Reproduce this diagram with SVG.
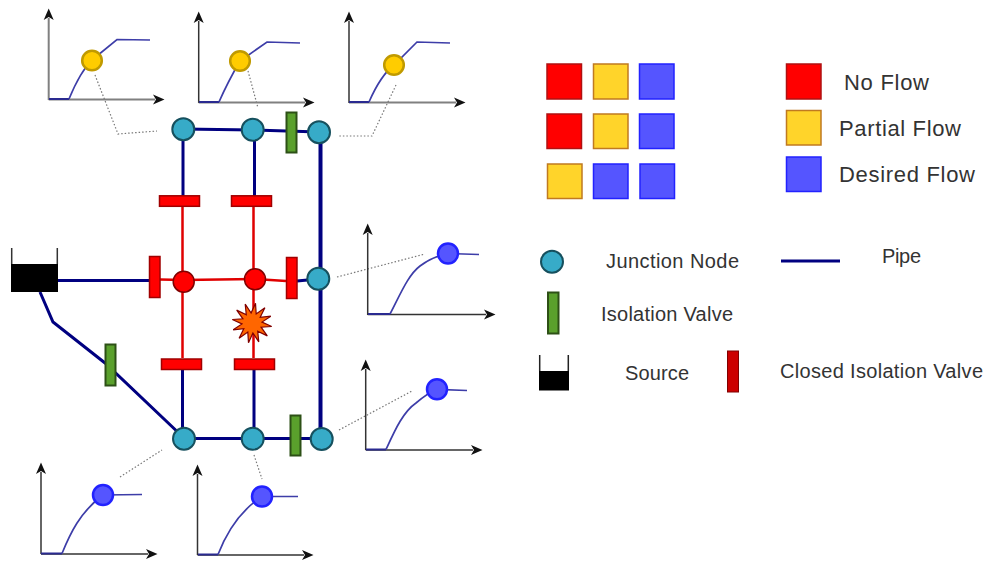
<svg xmlns="http://www.w3.org/2000/svg" width="987" height="561" viewBox="0 0 987 561">
<style>
text{font-family:"Liberation Sans",Arial,sans-serif;font-size:20px;fill:#333}
.big{font-size:22px}
.pipe{fill:none;stroke:#000080;stroke-width:3}
.thick{stroke-width:4}
.closed{fill:none;stroke:#e00000;stroke-width:2.5}
.junction{fill:#37abc8;stroke:#16505e;stroke-width:2}
.rednode{fill:#f00;stroke:#800000;stroke-width:1.5}
.green{fill:#5aa02c;stroke:#2d5016;stroke-width:2}
.redv{fill:#f00;stroke:#a00000;stroke-width:1.5}
.axis{fill:none;stroke:#333;stroke-width:1.5;marker-end:url(#arrow)}
.axisg{fill:none;stroke:#808080;stroke-width:2;marker-end:url(#arrow)}
.curve{fill:none;stroke:#3d3da8;stroke-width:1.7}
.base{fill:none;stroke:#2a2a90;stroke-width:2}
.dots{fill:none;stroke:#777;stroke-width:1.2;stroke-dasharray:1.5 2}
.mpart{fill:#fc0;stroke:#c09a00;stroke-width:2.5}
.mfull{fill:#55f;stroke:#22f;stroke-width:2.5}
.sr{fill:#f00;stroke:#b01010;stroke-width:1.5}
.sy{fill:#ffd42a;stroke:#c07a20;stroke-width:1.5}
.sb{fill:#55f;stroke:#22f;stroke-width:1.5}
</style>
<defs>
<marker id="arrow" markerUnits="userSpaceOnUse" markerWidth="14" markerHeight="12" refX="2" refY="6" orient="auto">
<path d="M0,1 L11.500,6 L0,11 L3,6 Z" fill="#111"/>
</marker>
<g id="source-shape">
<rect x="0" y="16" width="47" height="28" fill="#000"/>
<path d="M0.7,0 V16 M46.3,0 V16" stroke="#333" stroke-width="1.5" fill="none"/>
</g>
</defs>

<g id="connectors">
<path class="pipe" d="M183,129 L253,130 L319,132"/>
<path class="pipe" d="M183,129 V196 M254.500,130 V196"/>
<path class="pipe thick" d="M320.500,132 V439"/>
<path class="pipe" d="M58,280.500 H149 M297,281 L318,279"/>
<path class="pipe" d="M40,292 L53,322 L105,363 L184,438"/>
<path class="pipe" d="M182.500,370 V438 M254,370 V438"/>
<path class="pipe" d="M184,438.500 H321"/>
<path class="closed" d="M182.500,206 V358 M253.500,206 V358"/>
<path class="closed" d="M160,279.500 L184,280 L255,279 L286,281"/>
<path class="dots" d="M95,75 L118,134 L157,131"/>
<path class="dots" d="M248,71 L258,108"/>
<path class="dots" d="M396,85 L372,136 L339,136"/>
<path class="dots" d="M337,277 L425,254"/>
<path class="dots" d="M339,430 L412,391"/>
<path class="dots" d="M120,477 L162,450"/>
<path class="dots" d="M254,455 L262,479"/>
</g>

<g id="source"><use href="#source-shape" x="11" y="248"/></g>
<g id="j1"><circle class="junction" cx="183.300" cy="129.300" r="11"/></g>
<g id="j2"><circle class="junction" cx="252.700" cy="129.700" r="11"/></g>
<g id="j3"><circle class="junction" cx="319" cy="132.300" r="11"/></g>
<g id="j4"><circle class="junction" cx="318.300" cy="278.700" r="11"/></g>
<g id="j5"><circle class="junction" cx="184" cy="438.700" r="11"/></g>
<g id="j6"><circle class="junction" cx="252.700" cy="438.700" r="11"/></g>
<g id="j7"><circle class="junction" cx="321.700" cy="439" r="11"/></g>
<g id="n1"><circle class="rednode" cx="183.700" cy="281.700" r="10.500"/></g>
<g id="n2"><circle class="rednode" cx="255" cy="279.300" r="10.500"/></g>
<g id="v1"><rect class="green" x="286.500" y="112.500" width="10" height="40"/></g>
<g id="v2"><rect class="green" x="105.500" y="344.500" width="10" height="41"/></g>
<g id="v3"><rect class="green" x="290.500" y="415.500" width="10" height="40"/></g>
<g id="c1"><rect class="redv" x="159.500" y="195.800" width="40" height="10.500"/></g>
<g id="c2"><rect class="redv" x="231.500" y="195.800" width="40" height="10.500"/></g>
<g id="c3"><rect class="redv" x="161.500" y="359" width="40" height="10.500"/></g>
<g id="c4"><rect class="redv" x="234.500" y="359" width="40" height="10.500"/></g>
<g id="c5"><rect class="redv" x="149.500" y="256.500" width="10.500" height="41"/></g>
<g id="c6"><rect class="redv" x="286.500" y="257.500" width="10.500" height="41"/></g>
<g id="burst"><polygon transform="translate(252,323)" fill="#f60" stroke="#800000" stroke-width="1.200" points="19.700,3.500 9.100,4.200 15.300,12.900 5.700,8.200 6.800,18.800 0.900,10 -3.500,19.700 -4.200,9.100 -12.900,15.300 -8.200,5.700 -18.800,6.800 -10,0.900 -19.700,-3.500 -9.100,-4.200 -15.300,-12.900 -5.700,-8.200 -6.800,-18.800 -0.900,-10 3.500,-19.700 4.200,-9.100 12.900,-15.300 8.200,-5.700 18.800,-6.800 10,-0.900"/></g>

<g id="chart1">
<path class="axisg" d="M48.700,100 V18"/><path class="axisg" d="M48.700,99.500 H155"/>
<path class="base" d="M49,99 H69"/><path class="curve" d="M69,99 C76,82 84,68 92,60 L117,39.500 L150,40"/>
<circle class="mpart" cx="92" cy="60.500" r="9.800"/>
</g>
<g id="chart2">
<path class="axis" d="M198.700,103 V21"/><path class="axisg" d="M198.700,102.500 H305"/>
<path class="base" d="M199,102 H219"/><path class="curve" d="M219,102 C226,86 233,73 240,61 L267,42 L300,43"/>
<circle class="mpart" cx="240" cy="61" r="9.800"/>
</g>
<g id="chart3">
<path class="axis" d="M349,103 V21"/><path class="axisg" d="M349,102.500 H456"/>
<path class="base" d="M349,102 H369"/><path class="curve" d="M369,102 C376,86 385,72 394,65 L417,42 L450,43"/>
<circle class="mpart" cx="394" cy="65" r="9.800"/>
</g>
<g id="chart4">
<path class="axis" d="M367.700,315 V233"/><path class="axis" d="M367.700,314.500 H486"/>
<path class="base" d="M368,314 H390"/><path class="curve" d="M390,314 C400,295 408,275 420,266 C428,260 436,256 448,253.500 L479,254.500"/>
<circle class="mfull" cx="448" cy="253.500" r="10"/>
</g>
<g id="chart5">
<path class="axis" d="M365.700,450 V369"/><path class="axis" d="M365.700,450 H473"/>
<path class="base" d="M366,449.500 H386"/><path class="curve" d="M386,449.500 C395,430 403,412 416,403 C422,398 430,392 437,389.300 L467,390.500"/>
<circle class="mfull" cx="437" cy="389.300" r="10"/>
</g>
<g id="chart6">
<path class="axis" d="M41,554 V472"/><path class="axis" d="M41,554 H148"/>
<path class="base" d="M41,553.500 H62"/><path class="curve" d="M62,553.500 C70,534 80,512 103,495 L142,494.500"/>
<circle class="mfull" cx="103" cy="495" r="10"/>
</g>
<g id="chart7">
<path class="axis" d="M197.500,555 V474"/><path class="axis" d="M197.500,555 H304"/>
<path class="base" d="M198,554.500 H218"/><path class="curve" d="M218,554.500 C226,534 238,512 262,496.500 L298,496.500"/>
<circle class="mfull" cx="262" cy="496.500" r="10"/>
</g>

<g id="grid">
<rect class="sr" x="547" y="64" width="34.500" height="35"/>
<rect class="sy" x="593.500" y="64" width="34.500" height="35"/>
<rect class="sb" x="639.500" y="64" width="34.500" height="35"/>
<rect class="sr" x="547" y="114" width="34.500" height="34.500"/>
<rect class="sy" x="593.500" y="114" width="34.500" height="34.500"/>
<rect class="sb" x="639.500" y="114" width="34.500" height="34.500"/>
<rect class="sy" x="547.500" y="164" width="34.500" height="34.500"/>
<rect class="sb" x="593.500" y="164" width="34.500" height="34.500"/>
<rect class="sb" x="640" y="164" width="34.500" height="34.500"/>
</g>

<g id="legend-noflow"><rect class="sr" x="786.500" y="64" width="34.500" height="35"/><text class="big" x="844" y="90" textLength="85">No Flow</text></g>
<g id="legend-partial"><rect class="sy" x="786.500" y="110.500" width="34.500" height="34.500"/><text class="big" x="839" y="136" textLength="122">Partial Flow</text></g>
<g id="legend-desired"><rect class="sb" x="786.500" y="157" width="34.500" height="34.500"/><text class="big" x="839" y="182" textLength="136">Desired Flow</text></g>
<g id="legend-junction"><circle class="junction" cx="552" cy="261.700" r="11"/><text x="606" y="268" textLength="133">Junction Node</text></g>
<g id="legend-pipe"><path class="pipe" d="M781,261 H840"/><text x="882" y="263" textLength="39">Pipe</text></g>
<g id="legend-valve"><rect class="green" x="548" y="292.500" width="10.500" height="41"/><text x="601" y="320.700" textLength="132">Isolation Valve</text></g>
<g id="legend-source"><rect x="539" y="371" width="30" height="19.500" fill="#000"/><path d="M539.700,355 V371 M568.300,355 V371" stroke="#222" stroke-width="1.500" fill="none"/><text x="625" y="380" textLength="64">Source</text></g>
<g id="legend-closed"><rect x="727.500" y="351" width="11" height="41" fill="#c00" stroke="#800000" stroke-width="1"/><text x="780" y="378" textLength="203">Closed Isolation Valve</text></g>
</svg>
